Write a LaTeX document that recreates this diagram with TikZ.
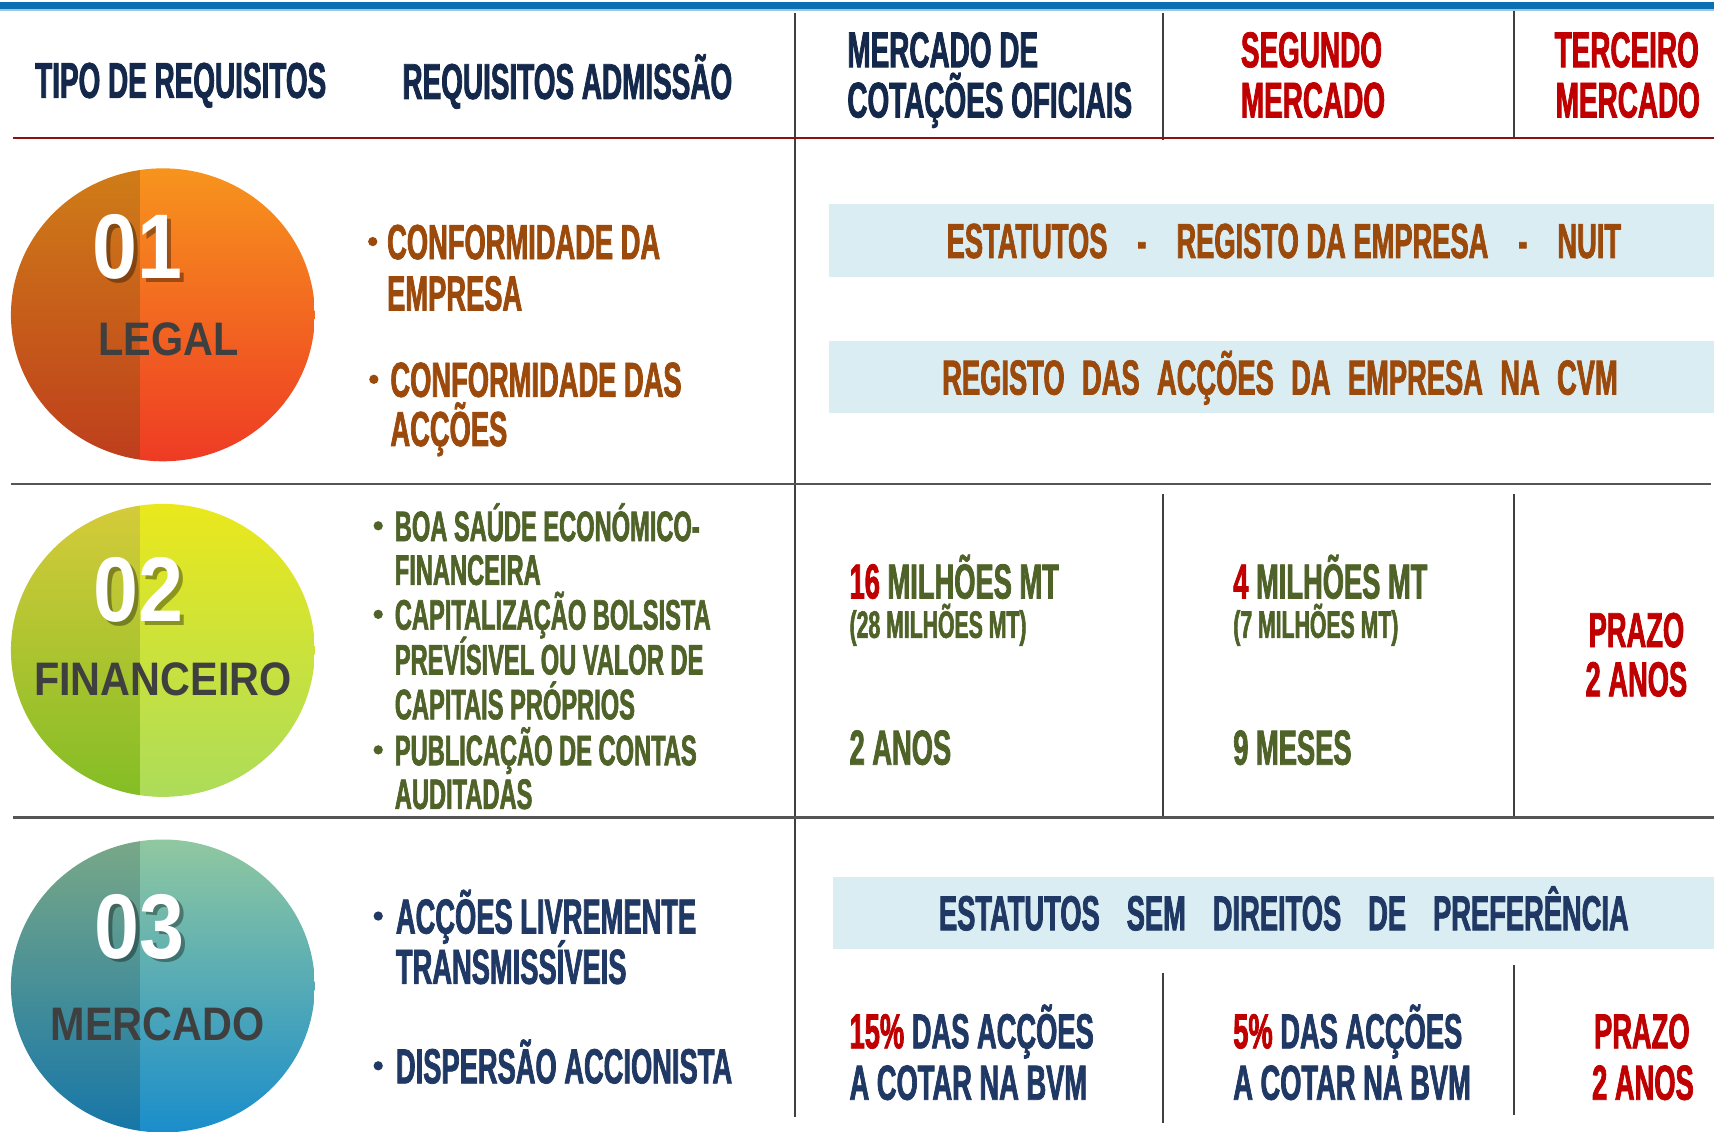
\documentclass[tikz,border=0pt]{standalone}
\usepackage{fontspec}
\newfontfamily\agency[FakeStretch=0.555,FakeBold=1.5]{Liberation Sans}
\newfontfamily\arialc[FakeStretch=0.88]{Liberation Sans}
\newcommand\myfs[1]{\fontsize{#1pt}{#1pt}\selectfont}
\definecolor{navyH}{HTML}{14284B}
\definecolor{redT}{HTML}{C00000}
\definecolor{brownT}{HTML}{9C4A0C}
\definecolor{oliveT}{HTML}{4F6228}
\definecolor{navyT}{HTML}{1F3864}
\definecolor{boxbg}{HTML}{DAEDF3}
\definecolor{lineG}{HTML}{404040}
\definecolor{hlineG}{HTML}{555555}
\definecolor{redL}{HTML}{8B1010}
\definecolor{barB}{HTML}{0A70B2}
\definecolor{lblG}{HTML}{3F3F3F}
\tikzset{
  txt/.style={anchor=base west, inner sep=0pt},
  ctxt/.style={anchor=base, inner sep=0pt},
  hd/.style={txt, font=\agency\bfseries\myfs{46}, text=navyH},
  hdr/.style={txt, font=\agency\bfseries\myfs{46}, text=redT},
  brw/.style={txt, font=\agency\bfseries\myfs{45}, text=brownT},
  olv/.style={txt, font=\agency\bfseries\myfs{39}, text=oliveT},
  olvb/.style={txt, font=\agency\bfseries\myfs{45}, text=oliveT},
  olvs/.style={txt, font=\agency\bfseries\myfs{35}, text=oliveT},
  nvy/.style={txt, font=\agency\bfseries\myfs{45}, text=navyT},
  prz/.style={ctxt, font=\agency\bfseries\myfs{45}, text=redT},
  boxtxt/.style={ctxt, font=\agency\bfseries\myfs{45}},
  bul/.style={circle, inner sep=0pt, minimum size=8.5pt},
  num/.style={ctxt, font=\arialc\bfseries\myfs{84}, text=white},
  numsh/.style={ctxt, font=\arialc\bfseries\myfs{84}, text=black, opacity=0.35},
  lbl/.style={ctxt, font=\arialc\bfseries\myfs{43}, text=lblG},
  vl/.style={draw=lineG, line width=1.6pt},
  hl/.style={draw=hlineG, line width=2.2pt},
  infobox/.style={fill=boxbg},
}
\begin{document}
\begin{tikzpicture}[x=1pt,y=-1pt]
\useasboundingbox (0,0) rectangle (1568,1035);
\fill[white] (0,0) rectangle (1568,1035);
% top bar
\fill[barB] (0,1.5) rectangle (1568,8.5);
\fill[barB!40] (0,8.5) rectangle (1568,10);

% grid lines
\draw[vl] (727,12) -- (727,1022);
\draw[vl] (1064,12) -- (1064,128);
\draw[vl] (1385,10) -- (1385,125);
\draw[vl] (1064,452) -- (1064,748);
\draw[vl] (1385,452) -- (1385,748);
\draw[vl] (1064,890) -- (1064,1027);
\draw[vl] (1385,883) -- (1385,1020);
\draw[draw=redL, line width=2pt] (12,126) -- (1568,126);
\draw[hl] (10,443) -- (1565,443);
\draw[hl] (12,748) -- (1568,748);

% light boxes
\fill[infobox] (758,187) rectangle (1568,253);
\fill[infobox] (758,312) rectangle (1568,378);
\fill[infobox] (762,802) rectangle (1568,868);

% circles
\begin{scope}
\clip (149,288) ellipse [x radius=139, y radius=134];
\shade[top color={rgb,255:red,247;green,148;blue,29}, bottom color={rgb,255:red,238;green,59;blue,36}] (128,154) rectangle (290,422);
\shade[top color={rgb,255:red,207;green,125;blue,24}, bottom color={rgb,255:red,190;green,62;blue,28}] (8,154) rectangle (128,422);
\end{scope}
\begin{scope}
\clip (149,595) ellipse [x radius=139, y radius=134];
\shade[top color={rgb,255:red,234;green,232;blue,28}, bottom color={rgb,255:red,172;green,220;blue,90}] (128,461) rectangle (290,729);
\shade[top color={rgb,255:red,213;green,203;blue,58}, bottom color={rgb,255:red,132;green,189;blue,37}] (8,461) rectangle (128,729);
\end{scope}
\begin{scope}
\clip (149,902) ellipse [x radius=139, y radius=134];
\shade[top color={rgb,255:red,144;green,200;blue,160}, bottom color={rgb,255:red,26;green,141;blue,203}] (128,768) rectangle (290,1036);
\shade[top color={rgb,255:red,121;green,168;blue,135}, bottom color={rgb,255:red,22;green,118;blue,168}] (8,768) rectangle (128,1036);
\end{scope}

% circle texts
\node[numsh] (n1s) at (129,258) {01};
\node[num] (n1) at (126,255) {01};
\node[lbl] (l1) at (154,325) {LEGAL};
\node[numsh] (n2s) at (130,572) {02};
\node[num] (n2) at (127,569) {02};
\node[lbl] (l2) at (149,636) {FINANCEIRO};
\node[numsh] (n3s) at (131,880) {03};
\node[num] (n3) at (128,877) {03};
\node[lbl] (l3) at (144,952) {MERCADO};

% header
\node[hd] (h1) at (32,89.5) {TIPO DE REQUISITOS};
\node[hd] (h2) at (368,90.5) {REQUISITOS ADMISSÃO};
\node[hd] (h3a) at (775,61.5) {MERCADO DE};
\node[hd] (h3b) at (775,107.5) {COTAÇÕES OFICIAIS};
\node[hdr] (h4a) at (1135,61.5) {SEGUNDO};
\node[hdr] (h4b) at (1135,107.5) {MERCADO};
\node[hdr] (h5a) at (1422,61.5) {TERCEIRO};
\node[hdr] (h5b) at (1423,107.5) {MERCADO};

% row 1
\node[bul, fill=brownT] (b11) at (341,221) {};
\node[brw] (r1a) at (354,237) {CONFORMIDADE DA};
\node[brw] (r1b) at (354,284) {EMPRESA};
\node[bul, fill=brownT] (b12) at (342,347) {};
\node[brw] (r1c) at (357,363) {CONFORMIDADE DAS};
\node[brw] (r1d) at (357,408) {ACÇÕES};
\node[boxtxt, text=brownT] (bx1) at (1174.5,236) {\makebox[617pt]{ESTATUTOS\hfill-\hfill REGISTO DA EMPRESA\hfill-\hfill NUIT}};
\node[boxtxt, text=brownT] (bx2) at (1171,361) {\makebox[618pt]{REGISTO\hfill DAS\hfill ACÇÕES\hfill DA\hfill EMPRESA\hfill NA\hfill CVM}};

% row 2
\node[bul, fill=oliveT] (b21) at (346,481) {};
\node[olv] (r2a) at (361,495) {BOA SAÚDE ECONÓMICO-};
\node[olv] (r2b) at (361,535) {FINANCEIRA};
\node[bul, fill=oliveT] (b22) at (346,562) {};
\node[olv] (r2c) at (361,576) {CAPITALIZAÇÃO BOLSISTA};
\node[olv] (r2d) at (361,617) {PREVÍSIVEL OU VALOR DE};
\node[olv] (r2e) at (361,658) {CAPITAIS PRÓPRIOS};
\node[bul, fill=oliveT] (b23) at (346,686) {};
\node[olv] (r2f) at (361,700) {PUBLICAÇÃO DE CONTAS};
\node[olv] (r2g) at (361,740) {AUDITADAS};

\node[olvb] (m1a) at (777,547.5) {\textcolor{redT}{16} MILHÕES MT};
\node[olvs] (m1b) at (777,583.5) {(28 MILHÕES MT)};
\node[olvb] (m1c) at (777,699.5) {2 ANOS};
\node[olvb] (m2a) at (1128,547.5) {\textcolor{redT}{4} MILHÕES MT};
\node[olvs] (m2b) at (1128,583.5) {(7 MILHÕES MT)};
\node[olvb] (m2c) at (1128,699.5) {9 MESES};
\node[prz] (m3a) at (1497,592) {PRAZO};
\node[prz] (m3b) at (1497,637) {2 ANOS};

% row 3
\node[bul, fill=navyT] (b31) at (346,838) {};
\node[nvy] (r3a) at (362,854) {ACÇÕES LIVREMENTE};
\node[nvy] (r3b) at (362,900) {TRANSMISSÍVEIS};
\node[bul, fill=navyT] (b32) at (346,975) {};
\node[nvy] (r3c) at (362,991) {DISPERSÃO ACCIONISTA};
\node[boxtxt, text=navyT] (bx3) at (1174.5,851) {\makebox[631pt]{ESTATUTOS\hfill SEM\hfill DIREITOS\hfill DE\hfill PREFERÊNCIA}};

\node[nvy] (p1a) at (777,959) {\textcolor{redT}{15\%} DAS ACÇÕES};
\node[nvy] (p1b) at (777,1006) {A COTAR NA BVM};
\node[nvy] (p2a) at (1128,959) {\textcolor{redT}{5\%} DAS ACÇÕES};
\node[nvy] (p2b) at (1128,1006) {A COTAR NA BVM};
\node[prz] (p3a) at (1502,959) {PRAZO};
\node[prz] (p3b) at (1503,1006) {2 ANOS};
\end{tikzpicture}
\end{document}
